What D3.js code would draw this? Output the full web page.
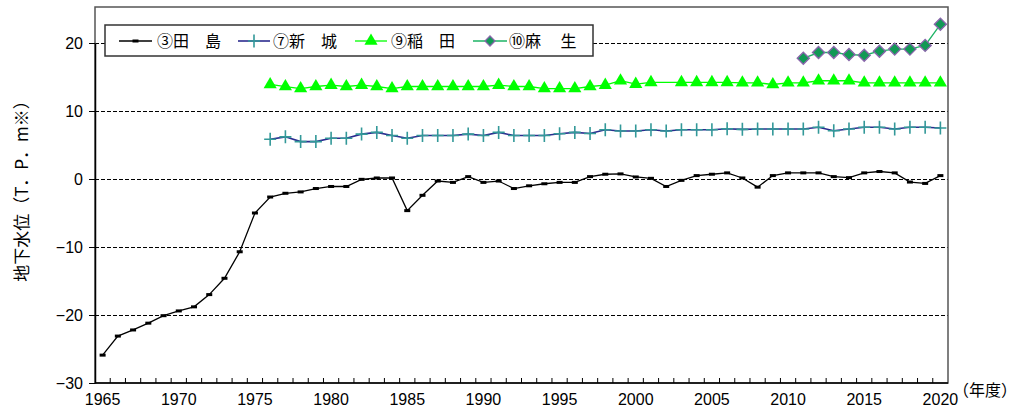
<!DOCTYPE html>
<html><head><meta charset="utf-8">
<script src="https://cdn.jsdelivr.net/npm/d3@7"></script>
<style>body{margin:0;background:#fff;} svg{display:block;font-family:"Liberation Sans",Arial,"Noto Sans CJK JP",sans-serif;} .cjk{font-family:"Noto Sans CJK JP",sans-serif;}</style>
</head><body><svg id="c" width="1023" height="412"></svg>
<script>
const years = d3.range(1965, 2021);
const seriesNames = ["③田　島", "⑦新　城", "⑨稲　田", "⑩麻　 生"];
const tajima = [-25.9,-23.1,-22.2,-21.2,-20.1,-19.4,-18.8,-17.0,-14.6,-10.7,-5.0,-2.65,-2.1,-1.9,-1.4,-1.1,-1.1,-0.05,0.15,0.15,
  -4.65,-2.4,-0.3,-0.5,0.35,-0.5,-0.3,-1.4,-1.0,-0.7,-0.5,-0.5,0.35,0.7,0.75,0.3,0.1,-1.1,-0.2,0.5,
  0.7,0.9,0.15,-1.2,0.5,0.9,0.9,0.9,0.35,0.2,0.9,1.1,0.9,-0.45,-0.65,0.5];
const shinjoYears = d3.range(1976, 2021);
const shinjo = [5.85,6.2,5.5,5.5,6.0,6.0,6.6,6.85,6.4,6.0,6.4,6.4,6.4,6.6,6.4,6.85,6.4,6.4,6.4,6.65,6.85,6.7,7.25,7.05,7.05,7.25,7.05,7.25,7.25,7.25,7.4,7.3,
  7.35,7.35,7.35,7.35,7.6,7.1,7.35,7.6,7.6,7.35,7.6,7.6,7.5];
const inadaYears = d3.range(1976, 2021);
const inada = [13.9,13.6,13.3,13.6,13.8,13.6,13.8,13.6,13.3,13.6,13.6,13.6,13.6,13.6,13.6,13.8,13.6,13.6,13.3,13.3,13.3,13.6,13.8,14.45,13.95,14.2,null,14.2,14.2,14.2,14.2,14.15,
  14.15,13.9,14.15,14.15,14.45,14.45,14.45,14.15,14.15,14.15,14.15,14.15,14.15];
const asoYears = d3.range(2011, 2021);
const aso = [17.75,18.6,18.6,18.3,18.2,18.8,19.1,19.1,19.65,22.75];
const yTicks = [-30,-20,-10,0,10,20];
const xTickLabels = [1965,1970,1975,1980,1985,1990,1995,2000,2005,2010,2015,2020];

const svg = d3.select("#c");
const L = 95, R = 948, T = 7, B = 383;
const x = d3.scaleLinear().domain([1964.5, 2020.5]).range([L, R]);
const y = d3.scaleLinear().domain([-30, 20]).range([383, 43]);

// gridlines
svg.append("g").selectAll("line").data(yTicks.filter(v => v > -30)).join("line")
  .attr("x1", L).attr("x2", R).attr("y1", d => Math.round(y(d)) + 0.5).attr("y2", d => Math.round(y(d)) + 0.5)
  .attr("stroke", "#000").attr("stroke-width", 1).attr("stroke-dasharray", "4,2").attr("shape-rendering", "crispEdges");

// frame
svg.append("rect").attr("x", L).attr("y", T).attr("width", R - L).attr("height", B - T)
  .attr("fill", "none").attr("stroke", "#555").attr("stroke-width", 1.5);

// y axis
const yAxis = d3.axisLeft(y).tickValues(yTicks).tickSize(6).tickSizeOuter(0)
  .tickFormat(d => d < 0 ? "−" + Math.abs(d) : d);
const gy = svg.append("g").attr("transform", `translate(${L},0)`).call(yAxis);
gy.select(".domain").attr("stroke", "#000").attr("stroke-width", 1.5);
gy.selectAll("text").attr("font-size", 16).attr("fill", "#000").attr("x", -12);
gy.selectAll(".tick line").attr("stroke", "#000");

// x axis: minor ticks at year boundaries pointing inside
const gx = svg.append("g").attr("transform", `translate(0,${B})`);
gx.append("line").attr("x1", L).attr("x2", R).attr("stroke", "#000").attr("stroke-width", 1.5);
gx.selectAll("line.t").data(d3.range(1965.5, 2020, 1)).join("line").attr("class", "t")
  .attr("x1", d => x(d)).attr("x2", d => x(d)).attr("y1", 0).attr("y2", -5)
  .attr("stroke", "#000").attr("stroke-width", 1);
gx.selectAll("text").data(xTickLabels).join("text")
  .attr("x", d => x(d)).attr("y", 22).attr("text-anchor", "middle")
  .attr("font-size", 16).text(d => d);
svg.append("text").attr("class", "cjk").attr("x", 953).attr("y", 396).attr("font-size", 16).text("（年度）");

// y label
svg.append("text").attr("class", "cjk").attr("transform", "translate(28,187) rotate(-90)")
  .attr("text-anchor", "middle").attr("font-size", 17).text("地下水位（T．P．m※）");

const line = d3.line().defined(d => d[1] != null).x(d => x(d[0])).y(d => y(d[1]));

// 田島
const dT = years.map((yr, i) => [yr, tajima[i]]);
svg.append("path").attr("d", line(dT)).attr("fill", "none").attr("stroke", "#000").attr("stroke-width", 1.3);
svg.append("g").selectAll("rect").data(dT).join("rect")
  .attr("x", d => x(d[0]) - 3).attr("y", d => y(d[1]) - 1.5).attr("width", 6).attr("height", 3).attr("fill", "#000");

// 新城
const dS = shinjoYears.map((yr, i) => [yr, shinjo[i]]);
svg.append("path").attr("d", line(dS)).attr("fill", "none").attr("stroke", "#2b2b8f").attr("stroke-width", 1.6);
svg.append("g").selectAll("path").data(dS).join("path")
  .attr("d", d => `M${x(d[0]) - 6},${y(d[1])}h12M${x(d[0])},${y(d[1]) - 6.5}v13`)
  .attr("stroke", "#339999").attr("stroke-width", 1.6).attr("fill", "none");

// 稲田
const dI = inadaYears.map((yr, i) => [yr, inada[i]]).filter(d => d[1] != null);
svg.append("path").attr("d", line(dI)).attr("fill", "none").attr("stroke", "#00ff00").attr("stroke-width", 1.3);
const tri = d3.symbol().type(d3.symbolTriangle).size(75);
svg.append("g").selectAll("path").data(dI).join("path")
  .attr("transform", d => `translate(${x(d[0])},${y(d[1])})`).attr("d", tri).attr("fill", "#00ff00");

// 麻生
const dA = asoYears.map((yr, i) => [yr, aso[i]]);
svg.append("path").attr("d", line(dA)).attr("fill", "none").attr("stroke", "#1cb364").attr("stroke-width", 1.3);
svg.append("g").selectAll("path").data(dA).join("path")
  .attr("d", d => `M${x(d[0])},${y(d[1]) - 6}l6,6l-6,6l-6,-6z`)
  .attr("fill", "#119955").attr("stroke", "#8866aa").attr("stroke-width", 1.4);

// legend
const lg = svg.append("g");
lg.append("rect").attr("x", 105).attr("y", 25).attr("width", 488).attr("height", 31)
  .attr("fill", "#fff").attr("stroke", "#333").attr("stroke-width", 1.5);
const ly = 41;
const items = [{x1:119,x2:152,tx:157},{x1:238,x2:270,tx:273},{x1:355,x2:387,tx:391},{x1:473,x2:507,tx:509}];
lg.append("line").attr("x1", items[0].x1).attr("x2", items[0].x2).attr("y1", ly).attr("y2", ly).attr("stroke", "#000").attr("stroke-width", 1.3);
lg.append("rect").attr("x", (items[0].x1 + items[0].x2) / 2 - 3).attr("y", ly - 1.5).attr("width", 6).attr("height", 3);
lg.append("line").attr("x1", items[1].x1).attr("x2", items[1].x2).attr("y1", ly).attr("y2", ly).attr("stroke", "#2b2b8f").attr("stroke-width", 1.6);
const cx1 = (items[1].x1 + items[1].x2) / 2;
lg.append("path").attr("d", `M${cx1 - 6},${ly}h12M${cx1},${ly - 6.5}v13`).attr("stroke", "#339999").attr("stroke-width", 1.6);
lg.append("line").attr("x1", items[2].x1).attr("x2", items[2].x2).attr("y1", ly).attr("y2", ly).attr("stroke", "#00ff00").attr("stroke-width", 1.3);
lg.append("path").attr("transform", `translate(${(items[2].x1 + items[2].x2) / 2},${ly})`).attr("d", tri).attr("fill", "#00ff00");
lg.append("line").attr("x1", items[3].x1).attr("x2", items[3].x2).attr("y1", ly).attr("y2", ly).attr("stroke", "#1cb364").attr("stroke-width", 1.3);
const cx3 = (items[3].x1 + items[3].x2) / 2;
lg.append("path").attr("d", `M${cx3},${ly - 5}l5,5l-5,5l-5,-5z`).attr("fill", "#119955").attr("stroke", "#8866aa").attr("stroke-width", 1.3);
lg.selectAll("text").data(seriesNames).join("text").attr("class", "cjk")
  .attr("x", (d, i) => items[i].tx).attr("y", ly + 6).attr("font-size", 16).text(d => d);
</script></body></html>
